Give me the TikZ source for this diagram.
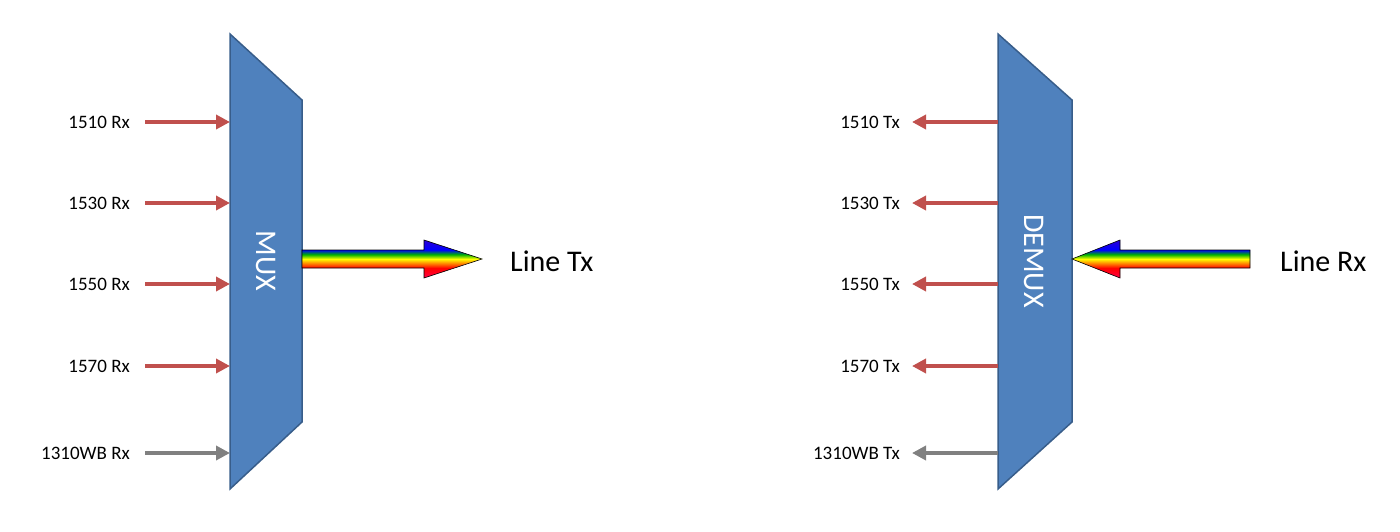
\documentclass[tikz,border=0pt]{standalone}
\usepackage{fontspec}
\setmainfont{Carlito}
\usetikzlibrary{arrows.meta,positioning}
\definecolor{boxblue}{HTML}{4F81BD}
\definecolor{boxline}{HTML}{385D8A}
\definecolor{sigred}{HTML}{C0504D}
\pgfdeclareverticalshading{rainbow}{100bp}{color(0bp)=(magenta!80!red); color(38bp)=(red); color(44bp)=(orange); color(50bp)=(yellow); color(56bp)=(green!70!black); color(62bp)=(blue); color(100bp)=(violet)}
\tikzset{
  muxbox/.style = {fill=boxblue, draw=boxline, line width=1.5pt},
  sig/.style = {line width=4pt, -{Triangle[length=14pt,width=14pt]}},
  lbl/.style = {anchor=east, font=\fontsize{19}{22}\selectfont, inner sep=0pt},
  big/.style = {anchor=west, font=\fontsize{30}{34}\selectfont, inner sep=0pt},
  rainbowarrow/.style = {shading=rainbow, draw=black, line width=0.6pt}
}
\begin{document}
\begin{tikzpicture}[x=1pt, y=-1pt]
  \useasboundingbox (0,0) rectangle (1400,532);
  % multiplexer
  \draw[muxbox] (230,34) -- (302,100) -- (302,422) -- (230,489) -- cycle;
  \node[rotate=-90, text=white, font=\fontsize{30}{34}\selectfont] (mux) at (266,261) {MUX};
  % demultiplexer
  \draw[muxbox] (998,34) -- (1072,100) -- (1072,422) -- (998,489) -- cycle;
  \node[rotate=-90, text=white, font=\fontsize{30}{34}\selectfont] (demux) at (1034,261) {DEMUX};
  % channels
  \foreach \w/\y/\c in {1510/122/sigred, 1530/203/sigred, 1550/284/sigred, 1570/366/sigred, 1310WB/453/gray} {
    \coordinate (rxs\w) at (145,\y);
    \coordinate (rxe\w) at (230,\y);
    \draw[sig, draw=\c, fill=\c] (rxs\w) -- (rxe\w);
    \node[lbl] (rx\w) at (130,\y) {\w{} Rx};
    \coordinate (txs\w) at (998,\y);
    \coordinate (txe\w) at (912,\y);
    \draw[sig, draw=\c, fill=\c] (txs\w) -- (txe\w);
    \node[lbl] (tx\w) at (900,\y) {\w{} Tx};
  }
  % line side
  \path[rainbowarrow] (302,250) -- (424,250) -- (424,240) -- (482,259) -- (424,278) -- (424,268) -- (302,268) -- cycle;
  \node[big] (linetx) at (510,261) {Line Tx};
  \path[rainbowarrow] (1250,250) -- (1120,250) -- (1120,240) -- (1072,259) -- (1120,278) -- (1120,268) -- (1250,268) -- cycle;
  \node[big] (linerx) at (1280,261) {Line Rx};
\end{tikzpicture}
\end{document}
